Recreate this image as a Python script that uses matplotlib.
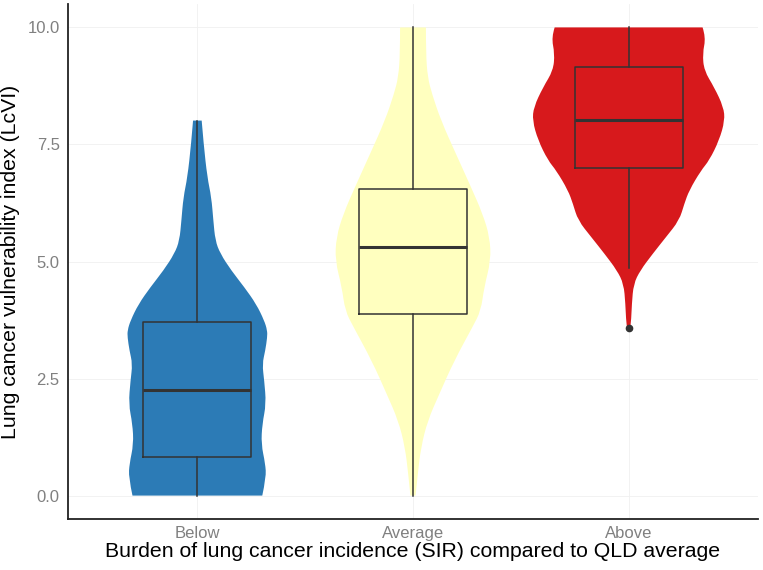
import numpy as np
import matplotlib
matplotlib.use('Agg')
import matplotlib.pyplot as plt
from matplotlib.path import Path
from matplotlib.patches import PathPatch

plt.rcParams['font.family'] = ['Liberation Sans', 'DejaVu Sans']

# categories and fill colours
groups = ['Below', 'Average', 'Above']
colours = ['#2C7BB6', '#FFFFBF', '#D7191C']

# violin outlines: LcVI level and half width (in category units)
below_y = [0.00, 0.39, 0.68, 1.10, 1.53, 1.96, 2.46, 2.81, 3.10, 3.38, 3.53, 3.74, 4.09, 4.45,
           4.81, 5.17, 5.45, 5.88, 6.37, 6.80, 7.51, 8.01]
below_w = [0.301, 0.319, 0.315, 0.296, 0.301, 0.319, 0.310, 0.301, 0.315, 0.324, 0.324, 0.310,
           0.273, 0.218, 0.157, 0.106, 0.083, 0.074, 0.065, 0.046, 0.029, 0.020]

average_y = [0.00, 0.46, 1.03, 1.60, 2.17, 2.88, 3.60, 3.95, 4.45, 5.02, 5.52, 6.02, 6.59, 7.30,
             8.01, 8.58, 8.94, 9.44, 10.0]
average_w = [0.012, 0.022, 0.037, 0.068, 0.122, 0.191, 0.276, 0.315, 0.330, 0.361, 0.356, 0.323,
             0.269, 0.199, 0.130, 0.088, 0.068, 0.060, 0.060]

above_y = [3.59, 3.67, 4.10, 4.52, 4.81, 5.16, 5.52, 5.88, 6.23, 6.52, 6.94, 7.16, 7.59, 8.01,
           8.30, 8.72, 9.08, 9.44, 9.79, 10.0]
above_w = [0.007, 0.011, 0.015, 0.023, 0.054, 0.111, 0.173, 0.235, 0.258, 0.281, 0.335, 0.374,
           0.420, 0.446, 0.440, 0.397, 0.350, 0.343, 0.358, 0.343]

# box plot statistics
whis_lo = [0.0, 0.0, 4.87]
q1 = [0.83, 3.87, 6.99]
median = [2.26, 5.30, 8.03]
q3 = [3.70, 6.54, 9.15]
whis_hi = [8.0, 10.0, 10.0]
outliers = [[], [], [3.59]]


def smooth_side(pts):
    # quadratic curve through the midpoints, keeping both ends fixed
    verts, codes = [], []
    for i in range(1, len(pts) - 1):
        mid = ((pts[i][0] + pts[i + 1][0]) / 2, (pts[i][1] + pts[i + 1][1]) / 2)
        if i == len(pts) - 2:
            mid = pts[-1]
        verts += [pts[i], mid]
        codes += [Path.CURVE3, Path.CURVE3]
    return verts, codes


def violin_patch(p, yy, ww, colour):
    right = [(p + w, y) for y, w in zip(yy, ww)]
    left = [(p - w, y) for y, w in zip(yy, ww)][::-1]
    verts, codes = [right[0]], [Path.MOVETO]
    v, c = smooth_side(right)
    verts += v
    codes += c
    verts.append(left[0])
    codes.append(Path.LINETO)
    v, c = smooth_side(left)
    verts += v
    codes += c
    verts.append(right[0])
    codes.append(Path.CLOSEPOLY)
    return PathPatch(Path(verts, codes), facecolor=colour, edgecolor='none', zorder=2)


fig = plt.figure(figsize=(7.63, 5.70), dpi=100)
ax = fig.add_axes([68 / 763, 51 / 570, 690 / 763, 515 / 570])

pos = np.arange(1, len(groups) + 1)
profiles = [(below_y, below_w), (average_y, average_w), (above_y, above_w)]
for p, (yy, ww), c in zip(pos, profiles, colours):
    ax.add_patch(violin_patch(p, yy, ww, c))

stats = []
for i, g in enumerate(groups):
    stats.append(dict(label=g, whislo=whis_lo[i], q1=q1[i], med=median[i], q3=q3[i],
                      whishi=whis_hi[i], fliers=outliers[i]))

ax.bxp(stats, positions=pos, widths=0.5, showcaps=False, patch_artist=False,
       boxprops=dict(color='#333333', linewidth=1.1),
       whiskerprops=dict(color='#333333', linewidth=1.1),
       medianprops=dict(color='#333333', linewidth=2.2),
       flierprops=dict(marker='o', markersize=4.5, markerfacecolor='#333333',
                       markeredgecolor='#333333'),
       zorder=3)

ax.set_xlim(0.4, 3.6)
ax.set_ylim(-0.5, 10.5)
ax.set_xticks(pos)
ax.set_xticklabels(groups)
ax.set_yticks([0, 2.5, 5, 7.5, 10])
ax.set_yticklabels(['0.0', '2.5', '5.0', '7.5', '10.0'])
ax.tick_params(length=0, labelsize=12, labelcolor='#808080')
ax.tick_params(axis='y', pad=6)
ax.tick_params(axis='x', pad=5)

ax.grid(True, color='#F0F0F0', linewidth=0.6, zorder=0)
ax.set_axisbelow(True)

for s in ['top', 'right']:
    ax.spines[s].set_visible(False)
for s in ['left', 'bottom']:
    ax.spines[s].set_color('#222222')
    ax.spines[s].set_linewidth(1.3)

ax.set_xlabel('Burden of lung cancer incidence (SIR) compared to QLD average', fontsize=15.3, labelpad=1)
ax.set_ylabel('Lung cancer vulnerability index (LcVI)', fontsize=15.3, labelpad=5)

fig.savefig('out.png', dpi=100)
